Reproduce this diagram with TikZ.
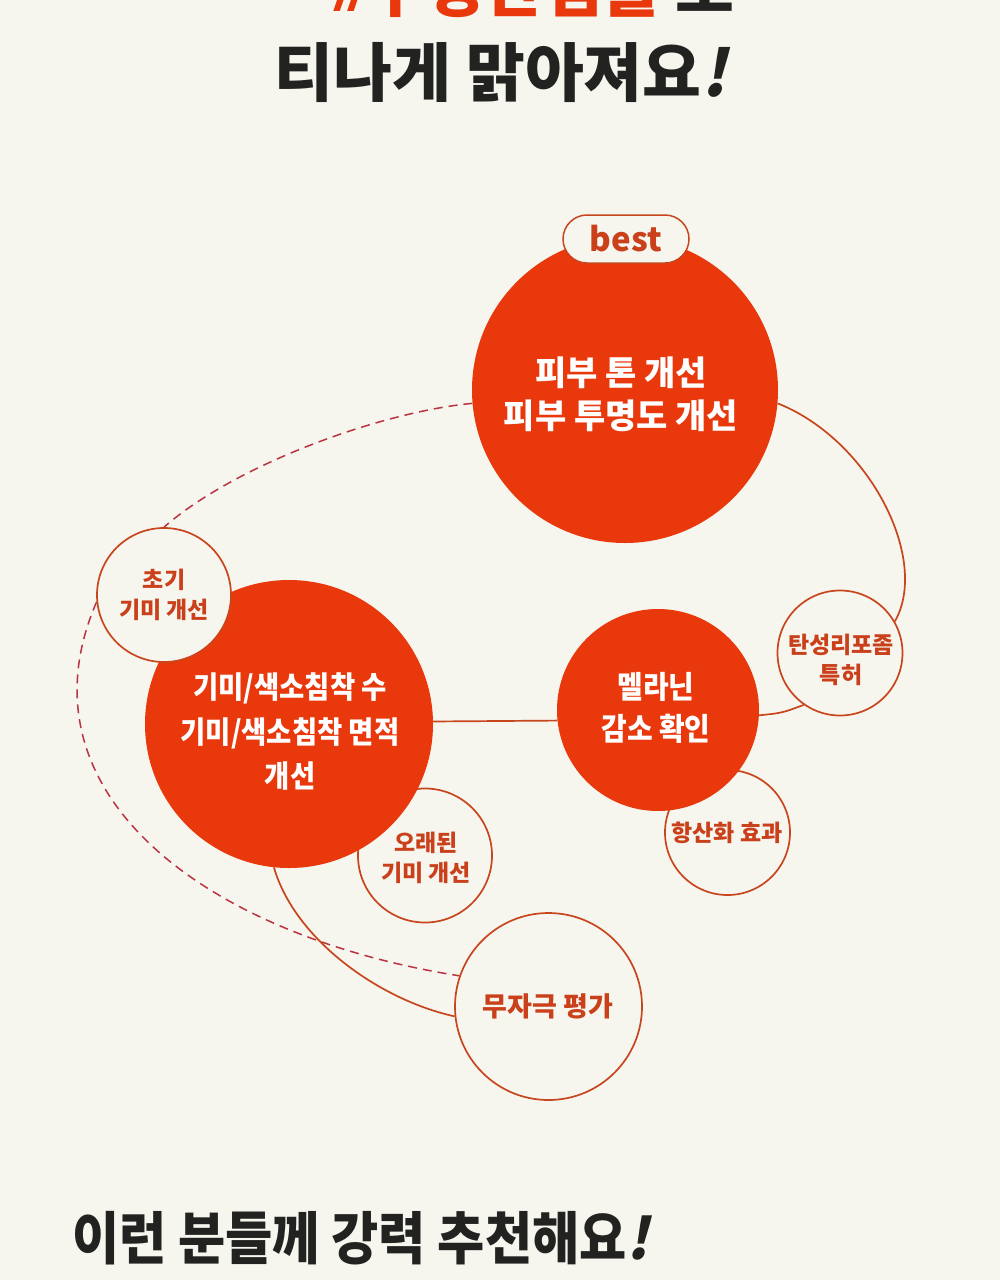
\documentclass[tikz,border=0pt]{standalone}
\usepackage{fontspec}
\setmainfont{Noto Sans CJK KR}
\newfontfamily\krc[FakeStretch=0.9]{Noto Sans CJK KR}
\newfontfamily\krs[FakeSlant=0.22]{Noto Sans CJK KR}
\definecolor{bg}{HTML}{F6F5EE}
\definecolor{fillred}{HTML}{E8380C}
\definecolor{edge}{HTML}{C8461E}
\definecolor{txtred}{HTML}{C9401A}
\definecolor{dashc}{HTML}{B93440}
\definecolor{ink}{HTML}{222220}
\tikzset{
  bigc/.style={circle, fill=fillred, inner sep=0pt, minimum size=#1},
  smallc/.style={circle, draw=edge, line width=1.7pt, fill=bg, inner sep=0pt, minimum size=#1},
  wtext/.style={text=white, align=center, inner sep=0pt},
  rtext/.style={text=txtred, align=center, inner sep=0pt, font=\bfseries\fontsize{23}{30}\selectfont},
  link/.style={draw=edge, line width=1.7pt},
  dlink/.style={draw=dashc, line width=1.5pt, dash pattern=on 9pt off 6pt},
}
\begin{document}
\begin{tikzpicture}[x=1pt,y=-1pt]
\useasboundingbox (0,0) rectangle (1000,1280);
\fill[bg] (0,0) rectangle (1000,1280);
\begin{scope}
\clip (0,0) rectangle (1000,1280);
% headline
\node[anchor=base east, inner sep=0pt, font=\bfseries\fontsize{64}{70}\selectfont] (h1) at (735,11)
  {\textcolor{fillred}{\krs\#}\textcolor{fillred}{수정란앰플} \textcolor{ink}{로}};
\node[anchor=base, inner sep=0pt, text=ink, font=\bfseries\fontsize{64}{70}\selectfont] (h2) at (501,96)
  {티나게 맑아져요{\krs!}};
\end{scope}

% circles underneath
\node[smallc=125pt] (H) at (727.5,832.5) {};
\node[smallc=134pt] (O) at (425,855.5) {};
% big circles
\node[bigc=288pt] (B) at (289,724) {};
\node[bigc=202pt] (Me) at (658,710) {};
\node[bigc=306pt] (T) at (625,390) {};
% small circles on top
\node[smallc=134pt] (A) at (164,595) {};
\node[smallc=125pt] (E) at (840,653) {};
\node[smallc=187pt] (M) at (548.5,1006.5) {};
\node[draw=edge, line width=1.5pt, fill=bg, rounded corners=24pt, minimum width=126pt, minimum height=48pt, inner sep=0pt,
      text=txtred, font=\bfseries\fontsize{33}{36}\selectfont] (best) at (626,239) {best};

% connectors
\path[dlink] (T.185) .. controls (380,412) and (235,465) .. (A.90);
\path[dlink] (A.186) .. controls (15,790) and (200,935) .. (M.161);
\path[link] (T.-5) .. controls (870,440) and (930,560) .. (E.30);
\path[link] (Me.-3) .. controls (782,713) .. (E.235);
\path[link] (B.1) -- (Me.186);
\path[link] (B.264) .. controls (295,940) and (380,1000) .. (M.186);

% texts
\node[wtext, font=\bfseries\fontsize{34}{43}\selectfont] (tT) at (621,394) {피부 톤 개선\\피부 투명도 개선};
\node[wtext, font=\krc\bfseries\fontsize{30.5}{44.5}\selectfont] (tB) at (290,732) {기미/색소침착 수\\기미/색소침착 면적\\개선};
\node[wtext, font=\krc\bfseries\fontsize{31}{42}\selectfont] (tMe) at (656,708) {멜라닌\\감소 확인};
\node[rtext] (tA) at (164,595) {초기\\기미 개선};
\node[rtext] (tE) at (841,660) {탄성리포좀\\특허};
\node[rtext] (tH) at (727,833) {항산화 효과};
\node[rtext] (tO) at (426,858) {오래된\\기미 개선};
\node[rtext, font=\bfseries\fontsize{27}{30}\selectfont] (tM) at (548,1006) {무자극 평가};

% bottom heading
\node[anchor=west, inner sep=0pt, text=ink, font=\krc\bfseries\fontsize{57}{64}\selectfont] (foot) at (72,1238)
  {이런 분들께 강력 추천해요{\krs!}};
\end{tikzpicture}
\end{document}
